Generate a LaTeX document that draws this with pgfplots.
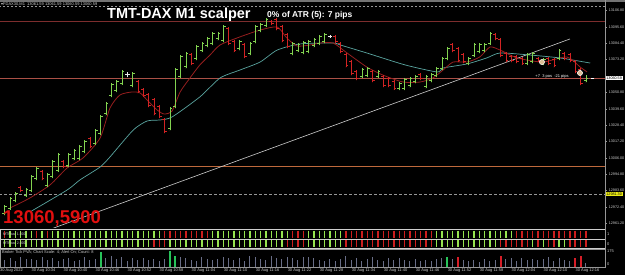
\documentclass[border=0pt]{standalone}
\usepackage{pgfplots}
\pgfplotsset{compat=1.18}
\usepackage{pgfplotstable}
\usepackage{fontspec}
\setmainfont{Liberation Sans}
\newfontfamily\dejavu{DejaVu Sans}
\definecolor{cgreen}{RGB}{130,210,80}
\definecolor{cred}{RGB}{210,35,35}
\definecolor{cwhite}{RGB}{235,235,235}
\definecolor{mared}{RGB}{150,30,30}
\definecolor{mateal}{RGB}{90,165,160}
\definecolor{tlgray}{RGB}{205,205,205}
\definecolor{lvlred}{RGB}{125,45,45}
\definecolor{lvlcur}{RGB}{170,80,70}
\definecolor{lvlorange}{RGB}{190,105,60}
\definecolor{dashgray}{RGB}{150,150,150}
\definecolor{axgray}{RGB}{150,150,150}
\definecolor{txtgray}{RGB}{205,205,205}
\definecolor{barg}{RGB}{150,228,80}
\definecolor{barr}{RGB}{205,30,30}
\definecolor{volgray}{RGB}{105,110,135}
\definecolor{volg}{RGB}{40,195,90}
\definecolor{volr}{RGB}{215,30,40}
\definecolor{tanc}{RGB}{220,190,150}
\definecolor{bigred}{RGB}{225,15,15}
\definecolor{yellowbox}{RGB}{235,235,20}
\newcommand{\tinyf}{\fontsize{4}{4.5}\selectfont}

\pgfplotstableread{
i o h l c
0 12967.8 12973.7 12966.8 12973.0
1 12971.3 12979.2 12970.3 12978.5
2 12976.7 12982.6 12975.7 12981.9
4 12980.2 12985.3 12979.2 12984.6
5 12983.6 12994.2 12982.6 12993.5
6 12991.8 12999.7 12990.8 12999.0
8 12987.0 12995.6 12986.0 12994.9
9 12993.2 13004.5 12992.2 13003.8
10 12997.3 13009.3 12996.3 13008.6
12 13000.7 13009.3 12999.7 13008.6
13 13005.5 13012.0 13004.5 13011.3
14 13005.5 13014.8 13004.5 13014.1
15 13010.3 13018.2 13009.3 13017.5
17 13015.8 13025.7 13014.8 13025.0
18 13022.6 13035.3 13021.6 13034.6
19 13036.3 13044.2 13035.3 13043.5
20 13048.7 13057.2 13047.7 13056.5
21 13052.1 13059.3 13051.1 13058.6
22 13056.9 13066.1 13055.9 13065.4
24 13055.5 13064.8 13054.5 13064.1
31 13026.0 13040.8 13025.0 13040.1
32 13041.1 13067.5 13040.1 13066.8
33 13061.7 13076.4 13060.7 13075.7
34 13068.5 13078.5 13067.5 13077.8
36 13074.0 13083.3 13073.0 13082.6
37 13079.5 13085.3 13078.5 13084.6
38 13082.9 13088.8 13081.9 13088.1
39 13084.3 13092.2 13083.3 13091.5
40 13087.7 13092.2 13086.7 13091.5
41 13086.3 13097.0 13085.3 13096.3
44 13080.8 13086.7 13079.8 13086.0
46 13077.4 13085.3 13076.4 13084.6
47 13085.6 13097.0 13084.6 13096.3
48 13093.2 13098.3 13092.2 13097.6
49 13096.6 13101.8 13095.6 13101.1
54 13077.4 13085.3 13076.4 13084.6
55 13079.5 13084.6 13078.5 13083.9
56 13078.1 13086.0 13077.1 13085.3
57 13078.8 13086.7 13077.8 13086.0
58 13082.9 13088.1 13081.9 13087.4
59 13084.3 13090.1 13083.3 13089.4
60 13085.6 13091.5 13084.6 13090.8
67 13061.7 13067.5 13060.7 13066.8
68 13062.4 13068.2 13061.4 13067.5
70 13061.7 13066.1 13060.7 13065.4
74 13053.5 13057.9 13052.5 13057.2
75 13053.5 13060.7 13052.5 13060.0
76 13055.5 13061.4 13054.5 13060.7
77 13058.2 13062.7 13057.2 13062.0
79 13054.8 13062.7 13053.8 13062.0
80 13058.9 13064.1 13057.9 13063.4
81 13062.4 13068.2 13061.4 13067.5
82 13067.1 13075.1 13066.1 13074.4
83 13074.0 13081.9 13073.0 13081.2
87 13070.6 13075.1 13069.6 13074.4
88 13076.1 13084.6 13075.1 13083.9
89 13078.8 13084.6 13077.8 13083.9
90 13079.5 13084.6 13078.5 13083.9
91 13084.3 13092.2 13083.3 13091.5
98 13070.6 13077.8 13069.6 13077.1
99 13071.9 13078.5 13070.9 13077.8
101 13070.6 13074.4 13069.6 13073.7
104 13074.0 13080.5 13073.0 13079.8
109 13058.9 13062.7 13057.9 13060.6
}\greentab

\pgfplotstableread{
i o h l c
3 12986.0 12986.7 12982.6 12983.6
7 12996.9 12997.6 12990.8 12991.8
11 13003.8 13004.5 12999.0 13000.0
16 13019.6 13020.3 13012.7 13013.7
25 13058.6 13059.3 13050.4 13051.4
26 13053.1 13053.8 13047.7 13048.7
27 13049.7 13050.4 13040.8 13041.8
28 13046.3 13047.0 13035.3 13036.3
29 13041.5 13042.2 13033.3 13034.3
30 13032.6 13033.3 13023.0 13024.0
35 13077.1 13077.8 13069.6 13070.6
42 13094.9 13095.6 13083.3 13084.3
43 13086.0 13086.7 13078.5 13079.5
45 13083.9 13084.6 13074.4 13075.4
50 13099.7 13100.4 13097.0 13098.0
51 13101.1 13101.8 13093.5 13094.5
52 13096.3 13097.0 13085.3 13086.3
53 13090.8 13091.5 13081.2 13082.2
62 13089.4 13090.1 13084.6 13085.6
63 13084.6 13085.3 13077.8 13078.8
64 13077.1 13077.8 13068.2 13069.2
65 13072.3 13073.0 13062.7 13063.7
66 13065.4 13066.1 13059.3 13060.3
69 13065.4 13066.1 13057.9 13058.9
71 13062.0 13062.7 13054.5 13055.5
72 13060.7 13061.4 13054.5 13055.5
73 13058.6 13059.3 13052.5 13053.5
78 13063.4 13064.1 13059.3 13060.3
84 13083.9 13084.6 13078.5 13079.5
85 13081.2 13081.9 13071.6 13072.6
86 13077.1 13077.8 13070.9 13071.9
92 13090.8 13091.5 13086.7 13087.7
93 13087.4 13088.1 13075.1 13076.1
94 13077.8 13078.5 13071.6 13072.6
95 13075.7 13076.4 13071.6 13072.6
96 13075.7 13076.4 13070.9 13071.9
97 13074.4 13075.1 13069.6 13070.6
100 13074.4 13075.1 13071.6 13072.6
102 13074.4 13075.1 13069.6 13070.6
103 13073.7 13074.4 13068.2 13069.2
105 13077.8 13078.5 13073.0 13074.0
106 13077.1 13077.8 13071.6 13072.6
107 13072.3 13073.0 13064.1 13065.1
108 13066.8 13067.5 13055.9 13056.9
}\redtab

\pgfplotstableread{
i o h l c
23 13062.8 13064.8 13061.4 13063.2
61 13089.0 13090.1 13088.1 13089.2
}\whitetab

\pgfplotstableread{
i r1 r2 v
0 r g 70
1 g g 85
2 g g 60
3 g g 95
4 g g 75
5 g g 80
6 r g 65
7 g g 100
8 r g 70
9 g g 90
10 g g 60
11 g g 75
12 g g 85
13 g g 55
14 g g 70
15 g g 95
16 g g 65
17 g g 80
18 g g 145
19 g g 90
20 g g 110
21 g g 75
22 g g 95
23 g g 60
24 g g 85
25 g g 70
26 g g 90
27 g g 65
28 g r 80
29 g r 55
30 r r 75
31 r g 160
32 r g 110
33 r g 100
34 r g 85
35 r g 70
36 r g 60
37 r g 95
38 r g 80
39 g g 65
40 g g 75
41 g g 100
42 g g 85
43 g g 70
44 g g 90
45 g g 60
46 g g 105
47 g g 95
48 g g 80
49 g g 70
50 g g 110
51 g g 90
52 g g 75
53 g r 100
54 r r 85
55 r r 65
56 r r 100
57 g g 95
58 g g 85
59 g g 70
60 g g 60
61 g g 75
62 g g 55
63 g g 80
64 r r 110
65 r r 65
66 r r 85
67 r r 60
68 r r 75
69 r r 95
70 r r 70
71 r r 55
72 r r 85
73 r r 65
74 r r 90
75 r r 70
76 r r 60
77 r r 80
78 r r 55
79 r r 70
80 r r 60
81 g g 75
82 g g 85
83 g g 100
84 g g 80
85 g g 100
86 g g 70
87 g g 55
88 g g 65
89 g g 50
90 g g 75
91 g g 60
92 g g 70
93 g r 110
94 g r 75
95 g r 85
96 r r 60
97 r r 90
98 r r 70
99 r g 80
100 r r 65
101 r g 75
102 r r 95
103 r r 60
104 r g 85
105 r g 70
106 r r 55
107 r r 85
108 r r 110
109 r r 40
}\ind

\newcommand{\candles}[2]{%
  \addplot[#2, only marks, mark=*, mark size=0.01pt, mark options={draw=none, fill=none}, error bars/.cd, y dir=plus, y explicit, error mark=none, error bar style={draw=#2, line width=0.9pt}] table[x=i, y=l, y error plus expr=\thisrow{h}-\thisrow{l}] {#1};
  \addplot[#2, only marks, mark=-, mark size=1.1pt, mark options={xshift=-1.1pt, line width=0.8pt}] table[x=i, y=o] {#1};
  \addplot[#2, only marks, mark=-, mark size=1.1pt, mark options={xshift=1.1pt, line width=0.8pt}] table[x=i, y=c] {#1};
}

\begin{document}
\begin{tikzpicture}
\useasboundingbox (0pt,0pt) rectangle (625pt,275pt);
\fill[black] (0pt,0pt) rectangle (625pt,275pt);
\fill[black!55] (0pt,273.2pt) rectangle (625pt,275pt);

% ---------------- main price panel
\begin{axis}[
  at={(0pt,47pt)}, anchor=south west,
  width=605pt, height=228pt, scale only axis,
  xmin=-0.876, xmax=112.57, ymin=12957.9, ymax=13114.1,
  axis line style={draw=none},
  xtick=\empty,
  scaled y ticks=false,
  ytick pos=right, yticklabel pos=right,
  ytick={13106.8,13095.6,13084.4,13073.2,13050.8,13039.6,13028.4,13017.2,13006.0,12994.8,12983.6,12972.4,12961.2},
  yticklabels={13106.80,13095.60,13084.40,13073.20,13050.80,13039.60,13028.40,13017.20,13006.00,12994.80,12983.60,12972.40,12961.20},
  yticklabel style={font=\fontsize{3.7}{4}\selectfont, text=txtgray, anchor=west, xshift=-1.2pt},
  ytick style={axgray, line width=0.4pt}, major tick length=1.5pt, tick align=outside,
  clip=true,
]
\addplot[dashgray, dash pattern=on 2pt off 2pt, line width=0.5pt] coordinates {(-1,13110.0) (113,13110.0)};
\addplot[lvlred, line width=0.7pt] coordinates {(-1,13099.7) (113,13099.7)};
\addplot[lvlcur, line width=0.7pt] coordinates {(-1,13060.6) (113,13060.6)};
\addplot[lvlorange, line width=0.8pt] coordinates {(-1,12999.8) (113,12999.8)};
\addplot[dashgray, dash pattern=on 3pt off 2pt, line width=0.5pt] coordinates {(-1,12981.3) (113,12981.3)};
\addplot[tlgray, line width=0.6pt] coordinates {(7.19,12955.2) (106.0,13087.4)};
% slow MA
\addplot[mateal, line width=0.7pt, smooth, tension=0.4] coordinates {
(4.75,12968.9) (11.7,12983.9) (14.1,12990.8) (17.9,12999.7) (19.75,13006.6) (24.1,13025.0)
(26.7,13031.2) (29.1,13031.9) (31.4,13034.0) (36.6,13047.7) (40.4,13060.7) (44.1,13066.1)
(47.9,13071.6) (51.1,13079.8) (55.4,13084.0) (61.6,13084.6) (62.9,13083.3) (67.9,13077.8)
(75.1,13069.6) (81.1,13064.8) (82.2,13067.5) (86.7,13070.3) (90.4,13074.4) (92.9,13077.8)
(98.5,13076.4) (104.1,13074.4) (109.8,13070.9)};
% fast MA
\addplot[mared, line width=0.8pt, smooth, tension=0.4] coordinates {
(1.0,12971.6) (4.75,12978.5) (8.5,12987.4) (11.7,12999.0) (14.7,13005.9) (17.9,13019.6)
(19.75,13040.1) (21.6,13049.0) (23.9,13051.1) (25.4,13050.4) (26.7,13045.6) (28.6,13038.7)
(29.9,13036.0) (31.4,13038.1) (32.9,13051.1) (34.75,13060.7) (36.6,13069.6) (38.5,13076.4)
(40.4,13083.3) (44.1,13088.8) (47.9,13093.5) (51.1,13095.6) (52.9,13088.1) (54.8,13082.6)
(57.3,13083.3) (59.1,13084.6) (61.6,13084.6) (64.2,13077.8) (67.9,13068.2) (70.9,13062.7)
(74.7,13057.9) (77.9,13057.9) (80.3,13060.7) (82.2,13066.1) (84.1,13071.6) (86.7,13071.6)
(89.1,13075.1) (91.0,13081.9) (92.9,13079.8) (96.1,13074.4) (100.9,13071.6) (105.4,13075.1)
(107.9,13068.2) (109.2,13064.8)};
\candles{\greentab}{cgreen}
\candles{\redtab}{cred}
\candles{\whitetab}{cwhite}
\addplot[only marks, mark=*, mark size=2.6pt, mark options={fill=tanc, draw=white, line width=0.5pt}] coordinates {(100.75,13071.6) (107.88,13064.1)};
\addplot[only marks, mark=-, mark size=1.6pt, white, mark options={line width=0.7pt}] coordinates {(110.3,13060.6)};
\end{axis}

% ---------------- MTF bars panel
\begin{axis}[
  at={(0pt,26.5pt)}, anchor=south west,
  width=605pt, height=19pt, scale only axis,
  xmin=-0.876, xmax=112.57, ymin=0, ymax=2,
  axis line style={tlgray, line width=0.6pt},
  xtick=\empty, ytick=\empty, clip=true,
]
\addplot[scatter, only marks, mark=|, mark size=3.5pt, scatter src=explicit symbolic,
  scatter/classes={g={draw=barg, line width=1.6pt}, r={draw=barr, line width=1.6pt}}]
  table[x=i, y expr=1.5, meta=r1] {\ind};
\addplot[scatter, only marks, mark=|, mark size=3.5pt, scatter src=explicit symbolic,
  scatter/classes={g={draw=barg, line width=1.6pt}, r={draw=barr, line width=1.6pt}}]
  table[x=i, y expr=0.5, meta=r2] {\ind};
\addplot[tlgray, line width=0.6pt] coordinates {(-1,1) (113,1)};
\end{axis}

% ---------------- volume panel
\begin{axis}[
  at={(0pt,8pt)}, anchor=south west,
  width=605pt, height=17.5pt, scale only axis,
  xmin=-0.876, xmax=112.57, ymin=0, ymax=175,
  axis line style={axgray, line width=0.5pt},
  ytick=\empty, xtick=\empty,
  clip=true,
]
\addplot[ycomb, volgray, line width=1pt] table[x=i, y=v] {\ind};
\addplot[ycomb, volg, line width=2.2pt] coordinates {(18,145) (31,160) (32,110) (83,100)};
\addplot[ycomb, volr, line width=2.2pt] coordinates {(85,100) (93,110) (107,85) (108,110)};
\end{axis}

% time labels
\foreach \k/\t in {0/30 Aug 2022, 1/30 Aug 10:34, 2/30 Aug 10:40, 3/30 Aug 10:46, 4/30 Aug 10:52, 5/30 Aug 10:58, 6/30 Aug 11:04, 7/30 Aug 11:10, 8/30 Aug 11:16, 9/30 Aug 11:22, 10/30 Aug 11:28, 11/30 Aug 11:34, 12/30 Aug 11:40, 13/30 Aug 11:46, 14/30 Aug 11:52, 15/30 Aug 11:58, 16/30 Aug 12:04, 17/30 Aug 12:10, 18/30 Aug 12:16}
  \node[anchor=center, text=txtgray, font=\tinyf, inner sep=0] at ({11.5pt+\k*32pt},4.6pt) {\t};

% right-hand separator
\draw[axgray, line width=0.6pt] (605pt,8pt) -- (605pt,275pt);

% ---------------- texts
\node[anchor=west, text=txtgray, font=\fontsize{4}{4.5}\selectfont, inner sep=0] at (1pt,270.2pt) {{\dejavu ▾}FDAX30,M1\ \ 13061.59 13061.59 13060.59 13060.59};
\node[anchor=base west, text=white, font=\fontsize{14.5}{16}\selectfont\bfseries, inner sep=0] at (107pt,256.7pt) {TMT-DAX M1 scalper};
\node[anchor=base west, text=white, font=\fontsize{8.5}{10}\selectfont\bfseries, inner sep=0] at (267pt,257.5pt) {0\% of ATR (5): 7 pips};
\node[anchor=base west, text=bigred, font=\fontsize{18.5}{20}\selectfont\bfseries, inner sep=0] at (3pt,51pt) {13060,5900};
\node[anchor=center, text=white, font=\tinyf, inner sep=0] at (552pt,198.5pt) {+7\ \ 3 pos\ \ -21 pips};
\node[anchor=west, fill=white, text=black, font=\fontsize{3.7}{4}\selectfont, inner sep=0.7pt] at (605.5pt,196.9pt) {13060.59};
\node[anchor=west, fill=yellowbox, text=black, font=\fontsize{3.7}{4}\selectfont, inner sep=0.7pt] at (605.5pt,81.1pt) {12981.30};
\node[anchor=west, text=txtgray, font=\fontsize{3.6}{4}\selectfont, inner sep=0] at (3pt,40.8pt) {MTFbar 1.000};
\node[anchor=west, text=txtgray, font=\fontsize{3.6}{4}\selectfont, inner sep=0] at (3pt,31.3pt) {MTFbar 2.000};
\node[anchor=west, text=txtgray, font=\tinyf, inner sep=0] at (607pt,40.8pt) {1};
\node[anchor=west, text=txtgray, font=\tinyf, inner sep=0] at (607pt,31.3pt) {0};
\node[anchor=west, text=txtgray, font=\tinyf, inner sep=0] at (2pt,23pt) {Broker Tick PVA; Chart Scale: 4; Alert On; Count: 8};
\node[anchor=west, text=txtgray, font=\tinyf, inner sep=0] at (607pt,23.8pt) {175};
\node[anchor=west, text=txtgray, font=\tinyf, inner sep=0] at (607pt,11pt) {0};
\end{tikzpicture}
\end{document}
